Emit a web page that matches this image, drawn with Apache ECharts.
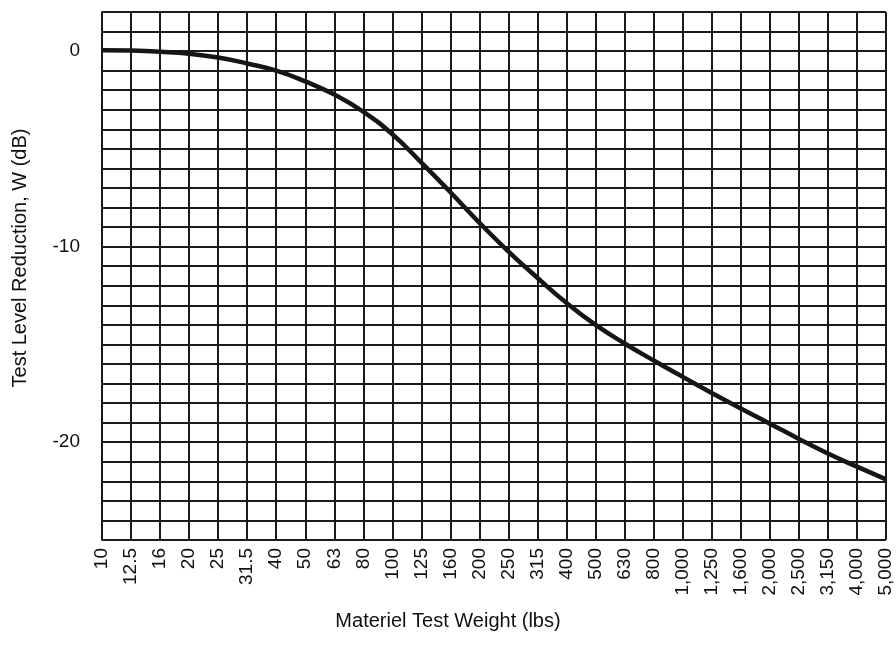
<!DOCTYPE html>
<html>
<head>
<meta charset="utf-8">
<script src="https://cdn.jsdelivr.net/npm/echarts@6/dist/echarts.min.js"></script>
<style>
  html, body { margin: 0; padding: 0; background: #fff; }
  #chart { width: 896px; height: 658px; }
</style>
</head>
<body>
<div id="chart"></div>
<script>
// 横轴：试件重量 (lbs)
const weights = ['10', '12.5', '16', '20', '25', '31.5', '40', '50', '63', '80',
  '100', '125', '160', '200', '250', '315', '400', '500', '630', '800',
  '1,000', '1,250', '1,600', '2,000', '2,500', '3,150', '4,000', '5,000'];

// 曲线：试验量级降低值 W (dB)
const reduction = [0.05, 0.03, -0.03, -0.13, -0.33, -0.63, -1.0, -1.55, -2.22, -3.1,
  -4.25, -5.7, -7.22, -8.78, -10.25, -11.6, -12.88, -14.0, -14.95, -15.82,
  -16.66, -17.48, -18.28, -19.05, -19.83, -20.58, -21.25, -21.9];

// 纵轴范围
const yMin = -25;
const yMax = 2;
const yLabels = [0, -10, -20];

const gridColor = '#1a1a1a';
const font = 'Liberation Sans, Arial, sans-serif';

const chart = echarts.init(document.getElementById('chart'));

chart.setOption({
  animation: false,
  title: {
    text: 'Materiel Test Weight (lbs)',
    left: 'center',
    top: 606,
    textStyle: { fontFamily: font, fontSize: 20, fontWeight: 'normal', color: '#111' }
  },
  graphic: [{
    type: 'text',
    x: 20,
    y: 258,
    rotation: Math.PI / 2,
    style: {
      text: 'Test Level Reduction, W (dB)',
      fontFamily: font,
      fontSize: 20,
      fill: '#111',
      textAlign: 'center',
      textVerticalAlign: 'middle'
    }
  }],
  grid: { left: 102, right: 10, top: 12, bottom: 118 },
  xAxis: {
    type: 'category',
    data: weights,
    boundaryGap: false,
    axisLine: { lineStyle: { color: gridColor, width: 2 } },
    axisTick: { show: false },
    axisLabel: {
      rotate: 90,
      interval: 0,
      margin: 8,
      fontFamily: font,
      fontSize: 19,
      color: '#111'
    },
    splitLine: { show: true, interval: 0, lineStyle: { color: gridColor, width: 2 } }
  },
  yAxis: {
    type: 'value',
    min: yMin,
    max: yMax,
    interval: 1,
    axisLine: { show: true, lineStyle: { color: gridColor, width: 2 } },
    axisTick: { show: false },
    axisLabel: {
      margin: 22,
      fontFamily: font,
      fontSize: 19,
      color: '#111',
      formatter: function (v) {
        return yLabels.indexOf(v) >= 0 ? String(v) : '';
      }
    },
    splitLine: { show: true, lineStyle: { color: gridColor, width: 2 } }
  },
  series: [{
    type: 'line',
    data: reduction,
    smooth: 0.5,
    showSymbol: false,
    lineStyle: { color: '#1a1512', width: 4.5 }
  }]
});
</script>
</body>
</html>
